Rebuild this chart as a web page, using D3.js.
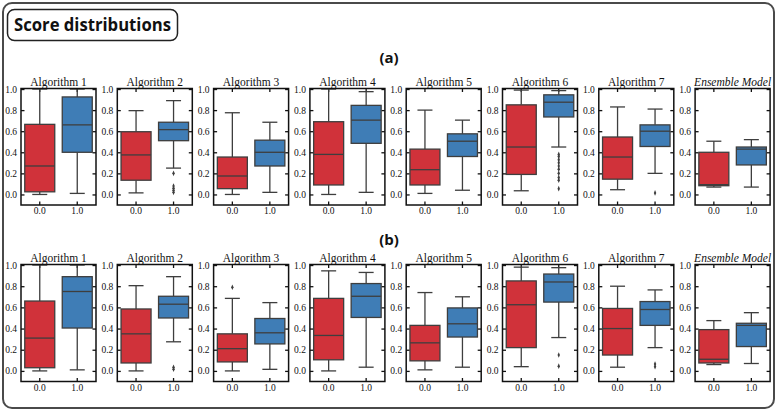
<!DOCTYPE html>
<html><head><meta charset="utf-8">
<script src="https://cdn.jsdelivr.net/npm/d3@7"></script>
<style>body{margin:0;background:#fff;}svg{display:block;}</style>
</head><body>
<svg id="chart" width="777" height="413"></svg>
<script>
const algorithms = ["Algorithm 1","Algorithm 2","Algorithm 3","Algorithm 4","Algorithm 5","Algorithm 6","Algorithm 7","Ensemble Model"];
const classes = ["0.0","1.0"];
const yTicks = [0.0,0.2,0.4,0.6,0.8,1.0];
const panelLabels = ["(a)","(b)"];

// [low whisker, Q1, median, Q3, high whisker]
const panelA_class0 = [
  [0.00,0.025,0.27,0.665,1.00],
  [0.015,0.135,0.375,0.595,0.795],
  [0.00,0.055,0.175,0.355,0.775],
  [0.00,0.09,0.38,0.69,1.00],
  [0.01,0.09,0.235,0.43,0.80],
  [0.035,0.19,0.45,0.85,0.99],
  [0.045,0.145,0.355,0.545,0.83],
  [0.07,0.083,0.093,0.40,0.505]
];
const panelA_class1 = [
  [0.01,0.40,0.66,0.925,1.00],
  [0.25,0.51,0.615,0.685,0.89],
  [0.02,0.27,0.40,0.515,0.685],
  [0.02,0.485,0.705,0.845,0.975],
  [0.04,0.36,0.505,0.575,0.705],
  [0.45,0.735,0.875,0.945,0.985],
  [0.20,0.455,0.60,0.66,0.81],
  [0.07,0.28,0.43,0.45,0.52]
];
const panelA_out0 = [[],[],[],[],[],[],[],[]];
const panelA_out1 = [
  [],
  [0.20,0.08,0.06,0.04,0.02],
  [],[],[],
  [0.38,0.36,0.33,0.30,0.27,0.24,0.20,0.16,0.135,0.055],
  [0.015],
  []
];

const panelB_class0 = [
  [0.00,0.03,0.31,0.66,1.00],
  [0.00,0.075,0.35,0.585,0.805],
  [0.00,0.085,0.21,0.35,0.685],
  [0.00,0.105,0.335,0.685,0.945],
  [0.01,0.095,0.265,0.43,0.74],
  [0.04,0.22,0.625,0.85,0.98],
  [0.035,0.15,0.40,0.59,0.80],
  [0.06,0.075,0.11,0.39,0.475]
];
const panelB_class1 = [
  [0.01,0.405,0.75,0.89,1.00],
  [0.275,0.50,0.63,0.705,0.89],
  [0.015,0.255,0.36,0.495,0.645],
  [0.035,0.505,0.705,0.825,0.93],
  [0.035,0.32,0.445,0.595,0.70],
  [0.315,0.65,0.84,0.915,0.975],
  [0.22,0.43,0.58,0.655,0.765],
  [0.07,0.23,0.43,0.45,0.55]
];
const panelB_out0 = [[],[],[0.79],[],[],[],[],[]];
const panelB_out1 = [
  [],
  [0.035,0.015],
  [],[],[],
  [0.15,0.045],
  [0.065,0.04],
  []
];

const panels = [
  {label: panelLabels[0], top: 88.5, bottom: 205, labelY: 63, c0: panelA_class0, c1: panelA_class1, o0: panelA_out0, o1: panelA_out1},
  {label: panelLabels[1], top: 264.5, bottom: 381.5, labelY: 245, c0: panelB_class0, c1: panelB_class1, o0: panelB_out0, o1: panelB_out1}
];

const colors = ["#d0323a", "#3f7db6"];
const lineColor = "#3e3e3e";
const serif = "'Liberation Serif', 'Times New Roman', serif";
const svg = d3.select("#chart");

// outer border
svg.append("rect").attr("x",3).attr("y",3).attr("width",771).attr("height",405)
  .attr("rx",9).attr("fill","none").attr("stroke","#4a4a4a").attr("stroke-width",2);

// title box
svg.append("rect").attr("x",7.5).attr("y",9.5).attr("width",170).attr("height",31)
  .attr("rx",7).attr("fill","#fff").attr("stroke","#222").attr("stroke-width",1.5);
svg.append("text").attr("x",14).attr("y",31)
  .attr("font-family","'Open Sans', sans-serif").attr("font-weight","bold").attr("font-size",18)
  .attr("textLength",157).attr("lengthAdjust","spacingAndGlyphs")
  .attr("fill","#111").text("Score distributions");

const plotW = 75;
const step = 96.3;
const left0 = 21;

panels.forEach(p => {
  svg.append("text").attr("x",389).attr("y",p.labelY).attr("text-anchor","middle")
    .attr("font-family","'Open Sans', sans-serif").attr("font-weight","bold").attr("font-size",15)
    .attr("fill","#111").text(p.label);

  const y = d3.scaleLinear().domain([-0.1, 1.005]).range([p.bottom, p.top]);

  algorithms.forEach((alg, i) => {
    const x0 = left0 + i*step;
    const x = d3.scaleBand().domain(classes).range([x0, x0+plotW]).paddingInner(0.2).paddingOuter(0.1);
    const g = svg.append("g");

    // title
    g.append("text").attr("x", x0 + plotW/2).attr("y", p.top - 2.5).attr("text-anchor","middle")
      .attr("font-family",serif).attr("font-size",11.5)
      .attr("font-style", alg === "Ensemble Model" ? "italic" : "normal")
      .attr("fill","#111").text(alg);

    // axes: left with labels
    const yAxis = d3.axisLeft(y).tickValues(yTicks).tickFormat(d3.format(".1f")).tickSizeInner(-3.5).tickSizeOuter(0).tickPadding(4);
    const ga = g.append("g").attr("transform",`translate(${x0},0)`).call(yAxis);
    ga.attr("font-family",serif);
    ga.select(".domain").remove();
    ga.selectAll("line").attr("stroke","#111").attr("stroke-width",1.3);
    ga.selectAll("text").attr("font-family",serif).attr("font-size",9.5).attr("fill","#111");

    const yAxisR = d3.axisRight(y).tickValues(yTicks).tickSizeInner(-3.5).tickSizeOuter(0).tickFormat("");
    const gr = g.append("g").attr("transform",`translate(${x0+plotW},0)`).call(yAxisR);
    gr.select(".domain").remove();
    gr.selectAll("line").attr("stroke","#111").attr("stroke-width",1.3);

    const xAxis = d3.axisBottom(x).tickSizeInner(-3.5).tickSizeOuter(0).tickPadding(2.5);
    const gx = g.append("g").attr("transform",`translate(0,${p.bottom})`).call(xAxis);
    gx.attr("font-family",serif);
    gx.select(".domain").remove();
    gx.selectAll("line").attr("stroke","#111").attr("stroke-width",1.3);
    gx.selectAll("text").attr("font-family",serif).attr("font-size",9.5).attr("fill","#111");

    const xAxisT = d3.axisTop(x).tickSizeInner(-3.5).tickSizeOuter(0).tickFormat("");
    const gt = g.append("g").attr("transform",`translate(0,${p.top})`).call(xAxisT);
    gt.select(".domain").remove();
    gt.selectAll("line").attr("stroke","#111").attr("stroke-width",1.3);

    // boxes
    [p.c0[i], p.c1[i]].forEach((s, k) => {
      const cx = x(classes[k]) + x.bandwidth()/2;
      const bw = x.bandwidth();
      const [lo, q1, med, q3, hi] = s;
      const capW = bw*0.25;
      g.append("line").attr("x1",cx).attr("x2",cx).attr("y1",y(q3)).attr("y2",y(hi)).attr("stroke",lineColor).attr("stroke-width",1.3);
      g.append("line").attr("x1",cx).attr("x2",cx).attr("y1",y(q1)).attr("y2",y(lo)).attr("stroke",lineColor).attr("stroke-width",1.3);
      g.append("line").attr("x1",cx-capW).attr("x2",cx+capW).attr("y1",y(hi)).attr("y2",y(hi)).attr("stroke",lineColor).attr("stroke-width",1.3);
      g.append("line").attr("x1",cx-capW).attr("x2",cx+capW).attr("y1",y(lo)).attr("y2",y(lo)).attr("stroke",lineColor).attr("stroke-width",1.3);
      g.append("rect").attr("x",cx-bw/2).attr("y",y(q3)).attr("width",bw).attr("height",y(q1)-y(q3))
        .attr("fill",colors[k]).attr("stroke",lineColor).attr("stroke-width",1.3);
      g.append("line").attr("x1",cx-bw/2).attr("x2",cx+bw/2).attr("y1",y(med)).attr("y2",y(med)).attr("stroke",lineColor).attr("stroke-width",1.3);
      const outs = k === 0 ? p.o0[i] : p.o1[i];
      outs.forEach(v => {
        g.append("path").attr("d", d3.symbol(d3.symbolDiamond, 9)()).attr("transform",`translate(${cx},${y(v)}) scale(0.75,1)`)
          .attr("fill",lineColor);
      });
    });

    g.append("rect").attr("x",x0).attr("y",p.top).attr("width",plotW).attr("height",p.bottom-p.top)
      .attr("fill","none").attr("stroke","#111").attr("stroke-width",1.5);
  });
});
</script>
</body></html>
